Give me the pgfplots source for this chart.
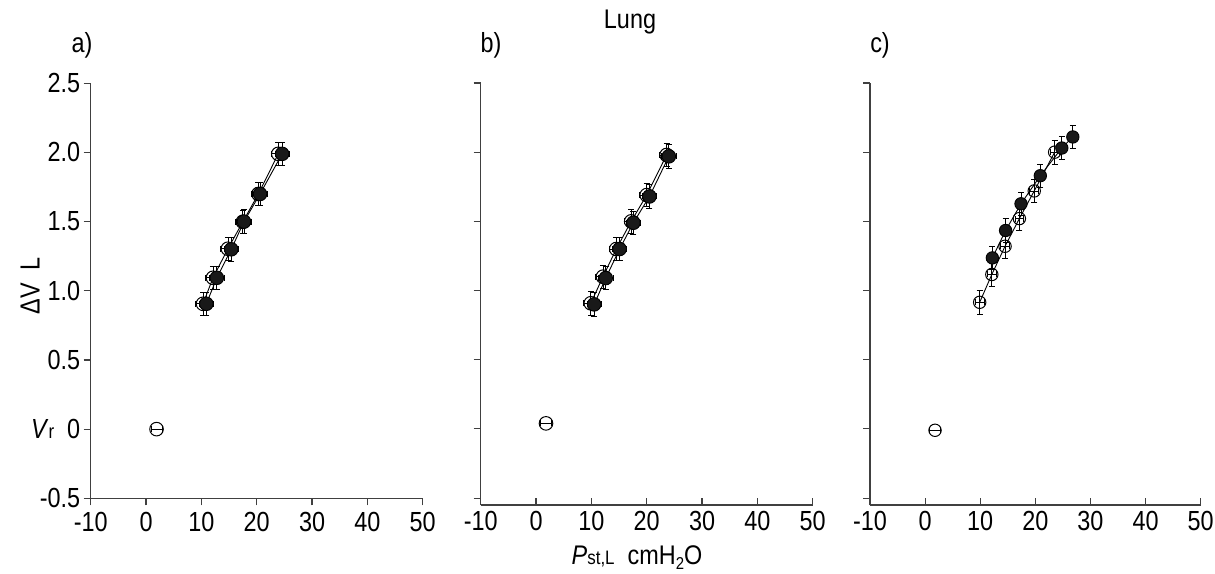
\documentclass[border=0pt]{standalone}
\usepackage{pgfplots}
\pgfplotsset{compat=1.18}
\usepackage{fontspec}
\setmainfont{Liberation Sans}
\setsansfont{Liberation Sans}
\newcommand{\fs}{\fontsize{23.5}{27}\selectfont}
\begin{document}
\begin{tikzpicture}
\useasboundingbox (0bp,0bp) rectangle (1215bp,574bp);
\pgfplotsset{
 panel/.style={
  scale only axis, xmin=-10, xmax=50, ymax=2.5,
  axis x line*=bottom, axis y line*=left,
  axis line style={line width=1.1bp, black!75, -},
  xtick={-10,0,10,20,30,40,50},
  xticklabels={-10,0,10,20,30,40,50},
  ytick={-0.5,0,0.5,1,1.5,2,2.5},
  tick style={line width=1.1bp, black!75},
  major tick length=7bp,
  ytick align=outside,
  tick label style={font=\fs, yscale=1.18},
  xticklabel style={yshift=-2bp},
  clip=false,
 },
 ebars/.style={
   error bars/x dir=both, error bars/x explicit,
   error bars/y dir=both, error bars/y explicit,
   error bars/error bar style={line width=0.8bp, black},
   error bars/error mark options={rotate=90, mark size=3bp, line width=0.8bp, black}},
 openser/.style={black, line width=0.9bp, mark=o, mark size=6.8bp,
   mark options={solid, line width=1bp, black}, ebars},
 fillser/.style={black, line width=0.9bp, mark=*, mark size=6.8bp,
   mark options={solid, fill=black!90, draw=black}, ebars},
}

% ---------- panel a ----------
\begin{axis}[panel, at={(90.7bp,75.7bp)}, anchor=south west,
  width=332bp, height=415bp, ymin=-0.5, xtick align=outside,
  yticklabels={-0.5,{\textit{V}{\fontsize{17}{20}\selectfont r}\ \ 0},0.5,1.0,1.5,2.0,2.5}]
\addplot[openser] table[x=x,y=y,x error=ex,y error=ey] {
x y ex ey
10.3 0.906 1.3 0.085
12.1 1.094 1.3 0.085
14.8 1.304 1.3 0.085
17.5 1.499 1.3 0.085
20.3 1.700 1.3 0.085
23.9 1.990 1.3 0.085
};
\addplot[fillser] table[x=x,y=y,x error=ex,y error=ey] {
x y ex ey
10.9 0.906 1.3 0.085
12.8 1.094 1.3 0.085
15.4 1.300 1.3 0.085
17.7 1.500 1.3 0.085
20.6 1.700 1.3 0.085
24.6 1.990 1.3 0.085
};
\addplot[openser, only marks] table[x=x,y=y,x error=ex,y error=ey] {
x y ex ey
1.9 0.0 1.0 0.0
};
\end{axis}

% ---------- panel b ----------
\begin{axis}[panel, at={(480.7bp,69bp)}, anchor=south west,
  width=332bp, height=422bp, ymin=-0.55, xtick align=inside,
  yticklabels={}]
\addplot[openser] table[x=x,y=y,x error=ex,y error=ey] {
x y ex ey
9.9 0.908 1.3 0.085
12.1 1.100 1.3 0.085
14.5 1.300 1.3 0.085
17.2 1.500 1.3 0.085
20.0 1.690 1.3 0.085
23.6 1.980 1.3 0.085
};
\addplot[fillser] table[x=x,y=y,x error=ex,y error=ey] {
x y ex ey
10.5 0.900 1.3 0.085
12.6 1.090 1.3 0.085
15.1 1.300 1.3 0.085
17.6 1.490 1.3 0.085
20.5 1.680 1.3 0.085
24.0 1.970 1.3 0.085
};
\addplot[openser, only marks] table[x=x,y=y,x error=ex,y error=ey] {
x y ex ey
1.8 0.04 1.0 0.0
};
\end{axis}

% ---------- panel c ----------
\begin{axis}[panel, at={(870bp,69bp)}, anchor=south west,
  width=330.7bp, height=422bp, ymin=-0.55, xtick align=inside,
  yticklabels={}]
\addplot[openser, mark size=6.2bp] table[x=x,y=y,x error=ex,y error=ey] {
x y ex ey
9.9 0.915 0.8 0.085
12.1 1.116 0.8 0.085
14.5 1.320 0.8 0.085
17.1 1.520 0.8 0.085
19.8 1.720 0.8 0.085
23.5 2.000 0.8 0.085
};
\addplot[fillser, mark size=6.2bp] table[x=x,y=y,x error=ex,y error=ey] {
x y ex ey
12.2 1.236 0.8 0.085
14.6 1.434 0.8 0.085
17.4 1.627 0.8 0.085
20.9 1.830 0.8 0.085
24.8 2.030 0.8 0.085
26.8 2.110 0.8 0.085
};
\addplot[openser, only marks, mark size=6.2bp] table[x=x,y=y,x error=ex,y error=ey] {
x y ex ey
1.8 -0.01 1.0 0.0
};
\end{axis}

% ---------- texts ----------
\node[font=\fs, yscale=1.15] at (630bp,552bp) {Lung};
\node[font=\fs, yscale=1.18] at (82bp,529bp) {a)};
\node[font=\fs, yscale=1.18] at (491bp,529bp) {b)};
\node[font=\fs, yscale=1.18] at (880bp,529bp) {c)};
\node[font=\fs, rotate=90, yscale=1.18] at (30bp,288bp) {ΔV\ \ L};
\node[font=\fs, yscale=1.15] at (637bp,16bp) {\textit{P}{\fontsize{17}{20}\selectfont st,L}\ \ cmH\raisebox{-0.35ex}{\fontsize{15}{18}\selectfont 2}O};
\end{tikzpicture}
\end{document}
